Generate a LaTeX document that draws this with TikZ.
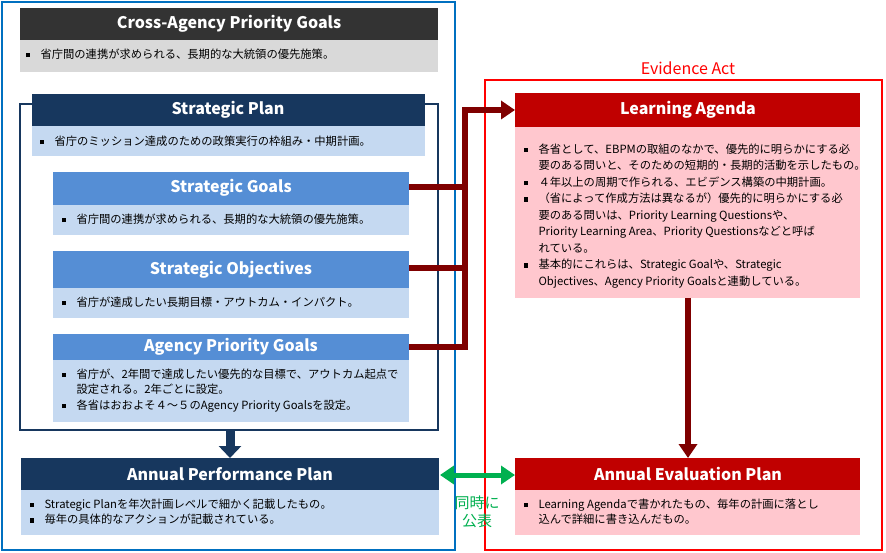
\documentclass[tikz,border=0pt]{standalone}
\usepackage{fontspec}
\setmainfont{Noto Sans CJK JP}
\usetikzlibrary{arrows.meta}
\definecolor{navy}{HTML}{17375E}
\definecolor{midblue}{HTML}{558ED5}
\definecolor{lblue}{HTML}{C5D9F1}
\definecolor{dred}{HTML}{C00000}
\definecolor{conn}{HTML}{7F0000}
\definecolor{pink}{HTML}{FFC7CE}
\definecolor{dgray}{HTML}{333333}
\definecolor{lgray}{HTML}{D9D9D9}
\definecolor{grn}{HTML}{00B050}
\definecolor{fblue}{HTML}{0070C0}
\tikzset{
 hdr/.style={font=\fontsize{16}{18}\selectfont\bfseries,text=white},
 bul/.style={font=\fontsize{11.3}{15.5}\selectfont,anchor=north west,align=left},
}
\newcommand{\bl}{\makebox[15pt][l]{\rule[1pt]{4.5pt}{4.5pt}}}
\begin{document}
\begin{tikzpicture}[x=1pt,y=-1pt]
\useasboundingbox (0,0) rectangle (886,553);
\fill[white] (0,0) rectangle (886,553);
% frames
\draw[fblue,line width=2.5] (2,2) rectangle (455,550);
\draw[red,line width=2.5] (485,80) rectangle (882,550);
\node[red,font=\fontsize{16}{18}\selectfont] (ea) at (688,68) {Evidence Act};
% cross-agency
\fill[dgray] (20,8) rectangle (438,40);
\fill[lgray] (20,40) rectangle (438,72);
\node[hdr] (cap) at (229,24) {Cross-Agency Priority Goals};
\node[bul] (capb) at (22,45) {\bl 省庁間の連携が求められる、長期的な大統領の優先施策。};
% strategic plan frame
\draw[navy,line width=2.5] (20,104) rectangle (438,430);
\fill[navy] (32,94) rectangle (425,126);
\fill[lblue] (32,126) rectangle (425,156);
\node[hdr] (sp) at (228,110) {Strategic Plan};
\node[bul] (spb) at (36,132) {\bl 省庁のミッション達成のための政策実行の枠組み・中期計画。};
% goals
\fill[midblue] (53,172) rectangle (409,205);
\fill[lblue] (53,205) rectangle (409,235);
\node[hdr] (sg) at (231,188) {Strategic Goals};
\node[bul] (sgb) at (58,210) {\bl 省庁間の連携が求められる、長期的な大統領の優先施策。};
\fill[midblue] (53,251) rectangle (409,288);
\fill[lblue] (53,288) rectangle (409,318);
\node[hdr] (so) at (231,270) {Strategic Objectives};
\node[bul] (sob) at (58,293) {\bl 省庁が達成したい長期目標・アウトカム・インパクト。};
\fill[midblue] (53,334) rectangle (409,360);
\fill[lblue] (53,360) rectangle (409,422);
\node[hdr] (apg) at (231,347) {Agency Priority Goals};
\node[bul] (apgb) at (58,365) {\bl 省庁が、2年間で達成したい優先的な目標で、アウトカム起点で\\\hspace*{15pt}設定される。2年ごとに設定。\\\bl 各省はおおよそ４～５のAgency Priority Goalsを設定。};
% arrow down
\coordinate (d1) at (230,430);
\coordinate (d2) at (230,458);
\draw[navy,line width=9,-{Triangle[width=22pt,length=12pt]}] (d1) -- (d2);
% APP
\fill[navy] (21,458) rectangle (439,490);
\fill[lblue] (21,490) rectangle (439,535);
\node[hdr] (app) at (230,474) {Annual Performance Plan};
\node[bul] (appb) at (26,495) {\bl Strategic Planを年次計画レベルで細かく記載したもの。\\\bl 毎年の具体的なアクションが記載されている。};
% learning agenda
\fill[dred] (515,93) rectangle (860,127);
\fill[pink] (515,127) rectangle (860,298);
\node[hdr] (la) at (688,110) {Learning Agenda};
\node[bul,font=\fontsize{11.3}{16.5}\selectfont] (lab) at (520,140) {\bl 各省として、EBPMの取組のなかで、優先的に明らかにする必\\\hspace*{15pt}要のある問いと、そのための短期的・長期的活動を示したもの。\\\bl ４年以上の周期で作られる、エビデンス構築の中期計画。\\\bl （省によって作成方法は異なるが）優先的に明らかにする必\\\hspace*{15pt}要のある問いは、Priority Learning Questionsや、\\\hspace*{15pt}Priority Learning Area、Priority Questionsなどと呼ば\\\hspace*{15pt}れている。\\\bl 基本的にこれらは、Strategic Goalや、Strategic\\\hspace*{15pt}Objectives、Agency Priority Goalsと連動している。};
% AEP
\fill[dred] (515,458) rectangle (860,490);
\fill[pink] (515,490) rectangle (860,535);
\node[hdr] (aep) at (688,474) {Annual Evaluation Plan};
\node[bul] (aepb) at (520,495) {\bl Learning Agendaで書かれたもの、毎年の計画に落とし\\\hspace*{15pt}込んで詳細に書き込んだもの。};
% red arrow
\coordinate (r1) at (688,298);
\coordinate (r2) at (688,458);
\draw[conn,line width=6,-{Triangle[width=18pt,length=14pt]}] (r1) -- (r2);
% connectors
\coordinate (g0) at (409,187);
\coordinate (o0) at (409,268);
\coordinate (a0) at (409,347);
\coordinate (la0) at (515,110);
\draw[conn,line width=6] (g0) -- (465,187);
\draw[conn,line width=6] (o0) -- (465,268);
\draw[conn,line width=6,line join=miter] (a0) -- (465,347) -- (465,110) -- ([xshift=-12pt]la0);
\draw[conn,line width=6,-{Triangle[width=18pt,length=14pt]}] (462,110) -- (la0);
% green
\coordinate (gl) at (440,475);
\coordinate (gr) at (515,475);
\draw[grn,line width=5,{Triangle[width=18pt,length=14pt]}-{Triangle[width=18pt,length=14pt]}] (gl) -- (gr);
\node[grn,font=\fontsize{15}{18}\selectfont,align=center] (dj) at (477,512) {同時に\\公表};
\end{tikzpicture}
\end{document}
